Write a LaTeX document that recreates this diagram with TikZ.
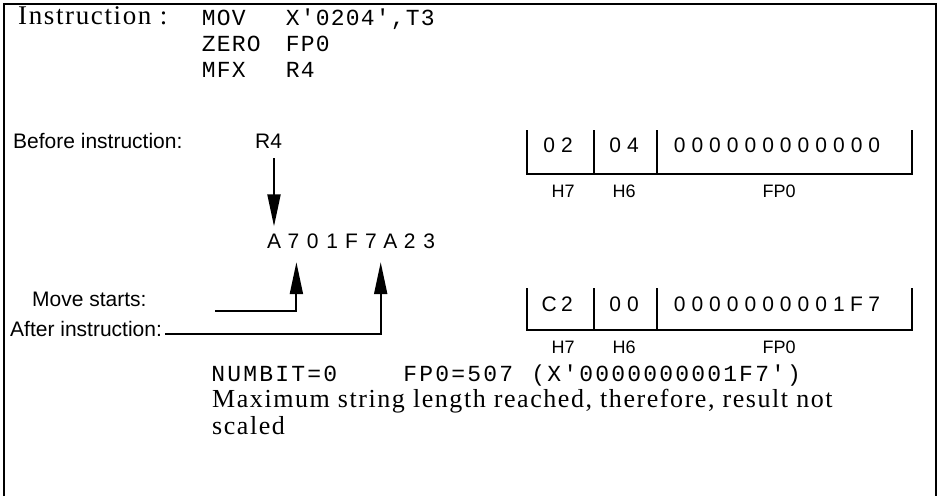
\documentclass[tikz,border=0pt]{standalone}
\usepackage{fontspec}
\setmainfont{Liberation Serif}
\setmonofont{Liberation Mono}
\newfontfamily\serifsp[LetterSpace=6]{Liberation Serif}
\newfontfamily\sansf{Liberation Sans}
\usetikzlibrary{arrows.meta,calc}
\makeatletter
\newcommand\spreadtext[2]{\def\sp@pitch{#1}\sp@loop#2\relax}
\def\sp@loop#1{\ifx\relax#1\else\makebox[\sp@pitch][c]{#1}\expandafter\sp@loop\fi}
\makeatother
\tikzset{
  bigserif/.style={font=\serifsp\fontsize{27}{30}\selectfont, inner sep=0pt, anchor=base west},
  bodyserif/.style={font=\serifsp\fontsize{26}{29}\selectfont, inner sep=0pt, anchor=base west, text height=18pt, text depth=5pt},
  monotxt/.style={font=\ttfamily\fontsize{23}{26}\selectfont, inner sep=0pt, anchor=base west},
  lbl/.style={font=\sansf\fontsize{21}{24}\selectfont, inner sep=0pt, anchor=base west},
  hexch/.style={font=\sansf\fontsize{21}{24}\selectfont, inner sep=0pt, anchor=base},
  regtxt/.style={font=\sansf\fontsize{21}{24}\selectfont, inner sep=0pt, anchor=base},
  reglbl/.style={font=\sansf\fontsize{18}{21}\selectfont, inner sep=0pt, anchor=base},
  frame/.style={line width=2.2pt},
  regline/.style={line width=2pt},
  arr/.style={line width=2pt, -{Triangle[length=32pt,width=13pt]}}
}
\begin{document}
\begin{tikzpicture}[x=1pt,y=-1pt]
\useasboundingbox (0,0) rectangle (941,496);
% frame
\draw[frame] (4,496) -- (4,4) -- (936,4) -- (936,496);
% instruction block
\node[bigserif] (instr) at (18,24) {Instruction :};
\node[monotxt] (op1) at (201,25) {\spreadtext{15pt}{MOV}};
\node[monotxt] (ar1) at (285,25) {\spreadtext{15pt}{X'0204',T3}};
\node[monotxt] (op2) at (201,51) {\spreadtext{15pt}{ZERO}};
\node[monotxt] (ar2) at (285,51) {\spreadtext{15pt}{FP0}};
\node[monotxt] (op3) at (201,77) {\spreadtext{15pt}{MFX}};
\node[monotxt] (ar3) at (285,77) {\spreadtext{15pt}{R4}};
% before
\node[lbl] (before) at (13,148) {Before instruction:};
\node[lbl] (r4) at (255,148) {R4};
\foreach \ch [count=\i] in {A,7,0,1,F,7,A,2,3}
  \node[hexch] (c\i) at ({274+19.4*(\i-1)},248) {\ch};
\draw[arr] ($(r4.base -| c1.north)+(0,10)$) -- ($(c1.north)+(0,-7)$);
% move starts / after
\node[lbl] (ms) at (32,306) {Move starts:};
\node[lbl] (ai) at (10,336) {After instruction:};
\coordinate (m1) at (215,311);
\draw[arr] (m1) -| ($(c2.south)+(3,14)$);
\draw[arr] ($(ai.base east)+(3,-2)$) -| ($(c6.south)!0.5!(c7.south)+(0,14)$);
% register 1
\draw[regline] (527,130) -- (527,174) -- (912,174) -- (912,130);
\draw[regline] (594,130) -- (594,174) (657,130) -- (657,174);
\node[regtxt] (r1a) at (558,152) {\spreadtext{17.7pt}{02}};
\node[regtxt] (r1b) at (624,152) {\spreadtext{17.7pt}{04}};
\node[regtxt] (r1c) at (777,152) {\spreadtext{17.7pt}{000000000000}};
\node[reglbl] (l1a) at (563,197) {H7};
\node[reglbl] (l1b) at (624,197) {H6};
\node[reglbl] (l1c) at (779,197) {FP0};
% register 2
\draw[regline] (527,288) -- (527,330) -- (912,330) -- (912,288);
\draw[regline] (594,288) -- (594,330) (657,288) -- (657,330);
\node[regtxt] (r2a) at (558,311) {\spreadtext{17.7pt}{C2}};
\node[regtxt] (r2b) at (624,311) {\spreadtext{17.7pt}{00}};
\node[regtxt] (r2c) at (777,311) {\spreadtext{17.7pt}{0000000001F7}};
\node[reglbl] (l2a) at (563,353) {H7};
\node[reglbl] (l2b) at (624,353) {H6};
\node[reglbl] (l2c) at (779,353) {FP0};
% result
\node[monotxt, text depth=3pt] (nb) at (210,381) {\spreadtext{16pt}{NUMBIT=0}};
\node[monotxt, text depth=3pt] (fp) at (402,381) {\spreadtext{16pt}{FP0=507~(X'0000000001F7')}};
\node[bodyserif] (msg1) at (212,407) {Maximum string length reached, therefore, result not};
\node[bodyserif] (msg2) at (212,434) {scaled};
\end{tikzpicture}
\end{document}
